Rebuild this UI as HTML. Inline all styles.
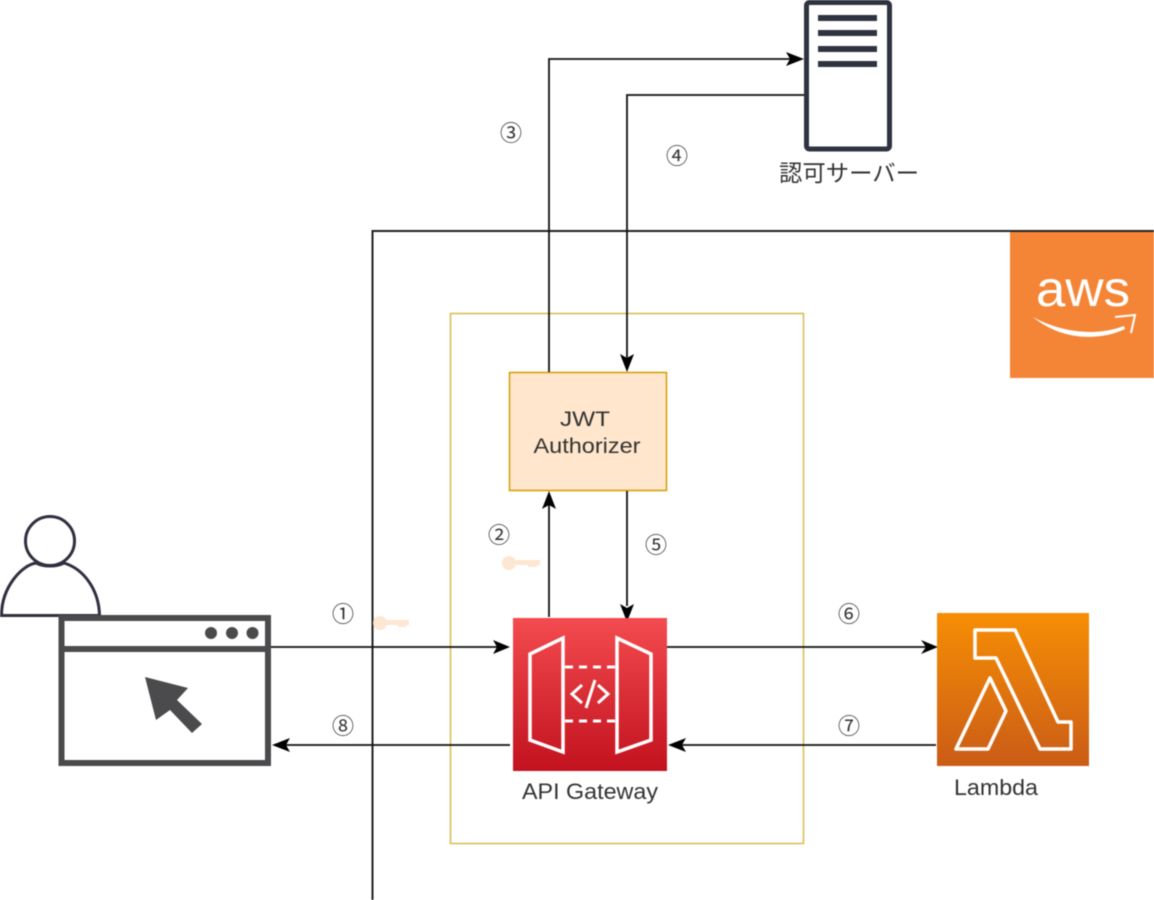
<!DOCTYPE html>
<html>
<head>
<meta charset="utf-8">
<style>
html,body{margin:0;padding:0;background:#fff;width:1154px;height:900px;overflow:hidden}
svg{display:block;filter:blur(.55px)}
text{font-family:"Liberation Sans","Noto Sans CJK JP",sans-serif;fill:#333}
</style>
</head>
<body>
<svg width="1154" height="900" viewBox="0 0 1154 900" xmlns="http://www.w3.org/2000/svg">
<defs>
<linearGradient id="r" x1="0" y1="0" x2="0" y2="1"><stop offset="0" stop-color="#f34b4f"/><stop offset="1" stop-color="#c2121f"/></linearGradient>
<linearGradient id="o" x1="0" y1="0" x2="0" y2="1"><stop offset="0" stop-color="#f78e04"/><stop offset="1" stop-color="#ca5c17"/></linearGradient>
</defs>
<rect width="1154" height="900" fill="#fff"/>

<!-- AWS frame -->
<path d="M1154 231H372.500V900" fill="none" stroke="#222" stroke-width="2"/>
<rect x="1010" y="232" width="144" height="146" fill="#f58536"/>
<text x="1083" y="306" font-size="50" text-anchor="middle" style="fill:#fff" textLength="94" lengthAdjust="spacingAndGlyphs">aws</text>
<path d="M1033 317C1060 332 1095 337 1124 326L1125 329C1095 343 1058 338 1033 317Z" fill="#fff"/>
<path d="M1115 317L1135 315L1131 333" fill="none" stroke="#fff" stroke-width="2"/>

<!-- container -->
<rect x="450.500" y="313.500" width="353" height="530" fill="none" stroke="#dcb94f" stroke-width="1.500"/>

<!-- JWT -->
<rect x="509.500" y="372.500" width="157" height="118" fill="#ffe6cc" stroke="#d79b00" stroke-width="1.500"/>
<text x="585" y="426" font-size="21.500" text-anchor="middle" textLength="50" lengthAdjust="spacingAndGlyphs">JWT</text>
<text x="587" y="453" font-size="21.500" text-anchor="middle" textLength="107" lengthAdjust="spacingAndGlyphs">Authorizer</text>

<!-- connectors -->
<g fill="none" stroke="#111" stroke-width="1.800">
<path d="M549 372V59H790"/>
<path d="M805 95H627V358"/>
<path d="M549 617V505"/>
<path d="M627 491V606"/>
<path d="M270 647H497"/>
<path d="M510 745H286"/>
<path d="M667 647H926"/>
<path d="M936 745H682"/>
</g>
<g fill="#000">
<path d="M804 59L786 52L790 59L786 66Z"/>
<path d="M627 372L620 354L627 358L634 354Z"/>
<path d="M549 491L542 509L549 505L556 509Z"/>
<path d="M627 622L620 604L627 608L634 604Z"/>
<path d="M510 647L493 640L497 647L493 654Z"/>
<path d="M272 745L290 738L286 745L290 752Z"/>
<path d="M938 647L921 640L926 647L921 654Z"/>
<path d="M668 745L686 738L682 745L686 752Z"/>
</g>

<!-- step labels -->
<g font-size="22" text-anchor="middle">
<text x="343" y="622">①</text>
<text x="343" y="734">⑧</text>
<text x="499" y="543">②</text>
<text x="511" y="141">③</text>
<text x="677" y="164">④</text>
<text x="656" y="553">⑤</text>
<text x="849" y="622">⑥</text>
<text x="849" y="734">⑦</text>
</g>

<!-- keys -->
<g fill="#fde6d2" stroke="none">
<circle cx="380" cy="623" r="7"/><rect x="384" y="620" width="25" height="5"/><rect x="398" y="624" width="8" height="3"/>
<circle cx="509" cy="563" r="7"/><rect x="513" y="560" width="27" height="5"/><rect x="528" y="564" width="9" height="3"/>
</g>

<!-- user -->
<circle cx="50" cy="541" r="24.500" fill="#fff" stroke="#2f2f3f" stroke-width="3"/>
<path d="M1.500 615.500C1.500 587 22 565 36 563C44 567 56 567 64 563C84 569 99 590 99.500 615.500Z" fill="#fff" stroke="#2f2f3f" stroke-width="3"/>

<!-- browser -->
<rect x="61.500" y="618" width="206.500" height="145" fill="#fff" stroke="#4b4b4d" stroke-width="6"/>
<rect x="62" y="646" width="206" height="6" fill="#4b4b4d"/>
<circle cx="211" cy="633" r="6" fill="#4b4b4d"/>
<circle cx="232" cy="633" r="6" fill="#4b4b4d"/>
<circle cx="252.500" cy="633" r="6" fill="#4b4b4d"/>
<path d="M145 677L188 688L177 700L202 724L192 733L170 710L156 720Z" fill="#4b4b4d"/>

<!-- server -->
<rect x="806.500" y="2.500" width="83" height="146.500" rx="3" fill="#fff" stroke="#2f3340" stroke-width="5"/>
<g fill="#2f3340">
<rect x="818" y="15" width="59" height="6"/>
<rect x="818" y="30" width="59" height="6"/>
<rect x="818" y="46" width="59" height="6"/>
<rect x="818" y="61" width="59" height="6"/>
</g>
<text x="849" y="181" font-size="23" text-anchor="middle" textLength="140" lengthAdjust="spacingAndGlyphs">認可サーバー</text>

<!-- API Gateway -->
<rect x="513" y="618" width="154" height="153" fill="url(#r)"/>
<g fill="none" stroke="#fff" stroke-width="3">
<path d="M563 638V752L530 740V654Z" stroke-width="3.500"/>
<path d="M617 638V752L651 740V654Z" stroke-width="3.500"/>
<path d="M565 667H615M565 721H615" stroke-dasharray="8 6"/>
<path d="M582 685L572 694L582 703M598 685L608 694L598 703M595 680L586 708"/>
</g>
<text x="590" y="799" font-size="22.500" text-anchor="middle" textLength="136" lengthAdjust="spacingAndGlyphs">API Gateway</text>

<!-- Lambda -->
<rect x="937" y="613" width="152" height="153" fill="url(#o)"/>
<g fill="none" stroke="#fff" stroke-width="3.500" stroke-linejoin="round">
<path d="M975 630H1015L1058 722H1071V749H1040L996 658H975Z"/>
<path d="M990 678L1006 711L988 749H956Z"/>
</g>
<text x="996" y="795" font-size="22" text-anchor="middle" textLength="84" lengthAdjust="spacingAndGlyphs">Lambda</text>
</svg>
</body>
</html>
